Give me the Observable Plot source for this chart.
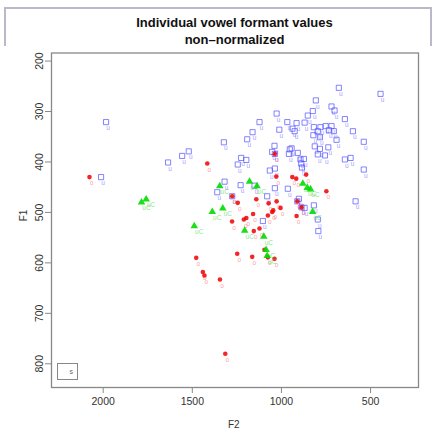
<!DOCTYPE html>
<html><head><meta charset="utf-8">
<script src="https://cdn.jsdelivr.net/npm/d3@7"></script>
<script src="https://cdn.jsdelivr.net/npm/@observablehq/plot@0.6"></script>
<style>
html,body{margin:0;padding:0;background:#fff;}
#wrap{position:relative;width:435px;height:441px;overflow:hidden;font-family:"Liberation Sans",Arial,sans-serif;}
#frame{position:absolute;left:4px;top:7px;width:428px;height:450px;border:2px solid #b9b9c9;box-sizing:border-box;}
.t{position:absolute;left:0;width:469px;text-align:center;font-weight:bold;font-size:13px;color:#111;}
#chart{position:absolute;left:0;top:46px;}
.lab{position:absolute;font-size:10px;color:#333;}
#legend{position:absolute;left:57px;top:363px;width:21px;height:17px;border:1px solid #888;box-sizing:border-box;font-size:7px;color:#666;text-align:right;padding-right:4px;line-height:15px;}
</style></head>
<body>
<div id="wrap">
  <div id="frame"></div>
  <div class="t" style="top:15px">Individual vowel formant values</div>
  <div class="t" style="top:32px">non–normalized</div>
  <div id="chart"></div>
  <div class="lab" style="left:18px;top:210px;transform:rotate(-90deg);">F1</div>
  <div class="lab" style="left:228px;top:419px;">F2</div>
  <div id="legend">s</div>
</div>
<script>
// Blue squares (label "u"): F2, F1
const blueF2 = [678,444,807,719,702,1027,824,852,644,1123,967,915,870,938,926,1012,1162,818,781,752,719,734,706,796,821,784,691,599,1192,538,813,784,737,1039,943,953,1052,958,908,796,756,1226,1197,893,874,889,644,612,1245,885,1037,1065,538,1229,1037,964,1080,902,584,818,870,796,793,1104,1984,2012,1636,1557,1520,1323,1319,1360,1151,1276,1037,911,887];
const blueF1 = [253,265,278,290,298,304,299,308,315,321,321,323,322,334,339,336,341,331,331,329,329,337,339,339,347,351,356,339,355,360,369,374,371,368,373,375,380,384,382,385,387,392,396,395,394,403,395,392,405,411,413,417,415,446,452,453,468,473,478,486,491,514,537,517,321,430,401,388,379,361,439,460,447,468,384,478,490];
// Red circles (label "o")
const redF2 = [2077,1416,1276,1245,1141,1277,1211,1197,1159,1155,1123,1478,1248,1164,1441,1432,1345,1029,939,917,861,1072,1027,911,887,748,1076,1052,1046,1005,915,1095,1076,1039,1315,1037];
const redF1 = [430,403,468,481,474,518,514,511,503,537,532,590,582,588,618,625,633,429,430,433,425,482,478,478,490,458,506,499,496,491,507,574,589,592,780,384];
// Green triangles (label "uC")
const greenF2 = [1785,1759,1489,1388,1329,1346,1179,1137,1206,1099,1086,1080,880,855,837,825];
const greenF1 = [480,474,527,499,492,448,439,448,536,548,574,586,443,451,454,499];

const xTicks = [2000,1500,1000,500];
const yTicks = [200,300,400,500,600,700,800];

const blue = blueF2.map((f2,i)=>({F2:f2,F1:blueF1[i],lab:"u"}));
const red = redF2.map((f2,i)=>({F2:f2,F1:redF1[i],lab:"o"}));
const green = greenF2.map((f2,i)=>({F2:f2,F1:greenF1[i],lab:"uC"}));

const chart = Plot.plot({
  width: 435, height: 395,
  marginLeft: 51, marginRight: 17, marginTop: 6.5, marginBottom: 54,
  x: {domain: [2290, 231]},
  y: {domain: [184, 847], reverse: true},
  style: {fontFamily: "Liberation Sans, Arial, sans-serif", fontSize: "10.5px", color: "#333", background: "#fff"},
  marks: [
    Plot.frame({stroke: "#888", strokeWidth: 1.3}),
    Plot.axisX({ticks: xTicks, tickFormat: d3.format("d"), tickSize: 6, tickPadding: 4, stroke: "#888", fill: "#333", label: null}),
    Plot.axisY({ticks: yTicks, tickFormat: d3.format("d"), tickSize: 6, tickPadding: 3, tickRotate: -90, stroke: "#888", fill: "#333", label: null}),
    Plot.text(blue, {x: "F2", y: "F1", text: "lab", dx: 2, dy: 6, fontSize: 6.5, fill: "rgba(90,90,255,0.6)"}),
    Plot.dot(blue, {x: "F2", y: "F1", symbol: "square", r: 2.9, stroke: "rgba(80,80,255,0.7)", strokeWidth: 1, fill: "none"}),
    Plot.text(red, {x: "F2", y: "F1", text: "lab", dx: 2, dy: 6, fontSize: 6.5, fill: "rgba(255,90,90,0.6)"}),
    Plot.dot(red, {x: "F2", y: "F1", r: 2.3, fill: "rgba(240,0,0,0.85)", stroke: "none"}),
    Plot.text(green, {x: "F2", y: "F1", text: "lab", dx: 5, dy: 6, fontSize: 6.5, fill: "rgba(60,210,60,0.6)"}),
    Plot.dot(green, {x: "F2", y: "F1", symbol: "triangle", r: 2.8, fill: "rgba(0,220,0,0.9)", stroke: "none"})
  ]
});
document.getElementById("chart").appendChild(chart);
</script>
</body></html>
